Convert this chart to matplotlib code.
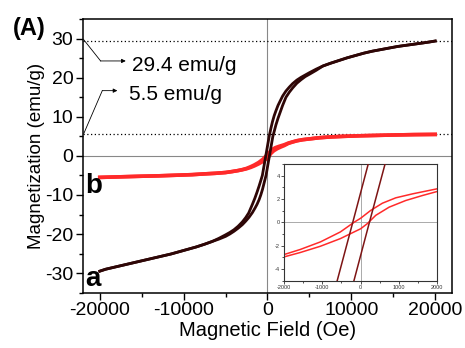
import matplotlib
matplotlib.use('Agg')
import matplotlib.pyplot as plt
from matplotlib.ticker import MultipleLocator

plt.rcParams['font.family'] = ['Liberation Sans', 'DejaVu Sans']
plt.rcParams['axes.unicode_minus'] = False

# sample a: descending-field branch and ascending-field branch (Oe, emu/g)
a_down_h = [20000, 19300, 18500, 17500, 16500, 15500, 14500, 13500, 12500, 11500,
            10500, 9500, 8500, 7500, 6600, 5800, 5000, 4500, 4000, 3500, 3000,
            2600, 2200, 1800, 1500, 1250, 1000, 800, 600, 400, 200, -205, -613,
            -840, -1000, -1250, -1500, -1800, -2240, -2600, -3000, -3500, -4000,
            -4500, -5000, -5800, -6600, -7500, -8500, -9500, -10500, -11500,
            -12500, -13500, -14500, -15500, -16500, -17500, -18500, -19300, -20000]
a_down_m = [29.4, 29.15, 28.9, 28.6, 28.3, 28.0, 27.6, 27.2, 26.8, 26.3,
            25.7, 25.1, 24.4, 23.7, 23.0, 22.2, 21.3, 20.7, 20.1, 19.4, 18.5,
            17.6, 16.6, 15.3, 14.0, 12.9, 11.5, 10.3, 8.8, 7.0, 5.0, 0.0, -5.0,
            -6.6, -7.7, -9.3, -10.8, -12.4, -14.6, -15.8, -16.9, -18.0, -18.9,
            -19.6, -20.2, -21.1, -21.9, -22.6, -23.3, -23.9, -24.5, -25.1,
            -25.6, -26.1, -26.6, -27.1, -27.6, -28.1, -28.6, -29.0, -29.5]
a_up_h = [-20000, -19300, -18500, -17500, -16500, -15500, -14500, -13500, -12500,
          -11500, -10500, -9500, -8500, -7500, -6600, -5800, -5000, -4500, -4000,
          -3500, -3000, -2600, -2200, -1800, -1500, -1250, -1000, -800, -600,
          -400, -175, 230, 640, 840, 1000, 1250, 1500, 1800, 2200, 2600, 3000,
          3500, 4000, 4500, 5000, 5800, 6600, 7500, 8500, 9500, 10500, 11500,
          12500, 13500, 14500, 15500, 16500, 17500, 18500, 19300, 20000]
a_up_m = [-29.5, -29.0, -28.6, -28.1, -27.6, -27.1, -26.6, -26.1, -25.6,
          -25.1, -24.5, -23.9, -23.3, -22.6, -21.9, -21.3, -20.6, -20.0, -19.3,
          -18.5, -17.6, -16.7, -15.7, -14.5, -13.4, -12.4, -11.2, -10.0, -8.6,
          -6.9, -5.0, 0.0, 5.0, 6.6, 7.9, 9.6, 11.1, 12.9, 15.0, 16.3, 17.4,
          18.6, 19.5, 20.3, 20.9, 21.9, 23.0, 23.7, 24.4, 25.1, 25.7, 26.3,
          26.8, 27.2, 27.6, 28.0, 28.3, 28.6, 28.9, 29.15, 29.4]

# sample b
b_down_h = [20000, 17500, 15000, 13000, 11000, 9000, 7500, 6200, 5000, 4200, 3500,
            3000, 2500, 2000, 1360, 920, 570, 263, 0, -175, -530, -1050, -1580,
            -2000, -2500, -3000, -3500, -4200, -5000, -6200, -7500, -9000,
            -11000, -13000, -15000, -17500, -20000]
b_down_m = [5.5, 5.45, 5.35, 5.25, 5.15, 5.0, 4.85, 4.65, 4.35, 4.15, 3.9,
            3.6, 3.3, 2.87, 2.44, 2.1, 1.64, 1.02, 0.35, 0.0, -0.82, -1.67, -2.32,
            -2.75, -3.2, -3.5, -3.75, -4.0, -4.25, -4.45, -4.6, -4.8,
            -4.95, -5.1, -5.2, -5.35, -5.5]
b_up_h = [-20000, -17500, -15000, -13000, -11000, -9000, -7500, -6200, -5000,
          -4200, -3500, -3000, -2500, -2000, -1580, -1050, -530, -260, 0, 175,
          395, 745, 1180, 1620, 2000, 2500, 3000, 3500, 4200, 5000, 6200, 7500,
          9000, 11000, 13000, 15000, 17500, 20000]
b_up_m = [-5.5, -5.35, -5.2, -5.1, -4.95, -4.8, -4.6, -4.45, -4.25,
          -4.0, -3.75, -3.55, -3.3, -2.95, -2.58, -2.04, -1.39, -0.96, -0.55, -0.11,
          0.6, 1.3, 1.87, 2.3, 2.64, 3.2, 3.55, 3.85, 4.15, 4.35, 4.65, 4.85,
          5.0, 5.15, 5.25, 5.35, 5.45, 5.5]

ms_a = 29.4
ms_b = 5.5

dark = '#2e0606'
maroon = '#7d1414'
red = '#ff2a2a'

fig = plt.figure(figsize=(4.65, 3.48), dpi=100)
ax = fig.add_axes([0.1785, 0.159, 0.7935, 0.786])

ax.axhline(0, color='#888888', lw=0.8, zorder=1)
ax.axvline(0, color='#888888', lw=0.8, zorder=1)
ax.axhline(ms_a, color='black', ls=(0, (1, 2)), lw=0.9, zorder=1)
ax.axhline(ms_b, color='black', ls=(0, (1, 2)), lw=0.9, zorder=1)

ax.plot(b_down_h, b_down_m, color=red, lw=2.6, zorder=2)
ax.plot(b_up_h, b_up_m, color=red, lw=2.6, zorder=2)
ax.plot(a_down_h, a_down_m, color=dark, lw=2.0, zorder=3)
ax.plot(a_up_h, a_up_m, color=dark, lw=2.0, zorder=3)

ax.set_xlim(-22000, 22000)
ax.set_ylim(-35, 35)
ax.xaxis.set_major_locator(MultipleLocator(10000))
ax.xaxis.set_minor_locator(MultipleLocator(5000))
ax.yaxis.set_major_locator(MultipleLocator(10))
ax.yaxis.set_minor_locator(MultipleLocator(5))
ax.tick_params(which='major', direction='out', length=5, width=1, labelsize=14,
               pad=2)
ax.tick_params(which='minor', direction='out', length=3, width=1)
for s in ax.spines.values():
    s.set_linewidth(1.1)

ax.set_xlabel('Magnetic Field (Oe)', fontsize=14.5, labelpad=1)
ax.set_ylabel('Magnetization (emu/g)', fontsize=13.5, labelpad=0)

# callouts
ax.plot([-21900, -19900], [29.7, 24.3], color='black', lw=0.6)
ax.annotate('', xy=(-16900, 24.3), xytext=(-19900, 24.3),
            arrowprops=dict(arrowstyle='-|>', color='black', lw=0.6,
                            mutation_scale=6, shrinkA=0, shrinkB=0))
ax.text(-16200, 23.2, '29.4 emu/g', fontsize=15, va='center', ha='left')
ax.plot([-21900, -19700], [5.75, 16.7], color='black', lw=0.6)
ax.annotate('', xy=(-17900, 16.7), xytext=(-19700, 16.7),
            arrowprops=dict(arrowstyle='-|>', color='black', lw=0.6,
                            mutation_scale=6, shrinkA=0, shrinkB=0))
ax.text(-16500, 15.8, '5.5 emu/g', fontsize=15, va='center', ha='left')

ax.text(-21700, -33.3, 'a', fontsize=20, fontweight='bold', va='baseline')
ax.text(-21700, -9.6, 'b', fontsize=20, fontweight='bold', va='baseline')
fig.text(0.028, 0.918, '(A)', fontsize=17, fontweight='bold', va='center')

# inset: low-field region
ins = fig.add_axes([0.611, 0.193, 0.329, 0.336])
ins.axhline(0, color='#aaaaaa', lw=0.7, zorder=1)
ins.axvline(0, color='#aaaaaa', lw=0.7, zorder=1)
ins.plot(b_down_h, b_down_m, color=red, lw=1.1, zorder=2)
ins.plot(b_up_h, b_up_m, color=red, lw=1.1, zorder=2)
ins.plot(a_down_h, a_down_m, color=maroon, lw=1.1, zorder=3)
ins.plot(a_up_h, a_up_m, color=maroon, lw=1.1, zorder=3)
ins.set_xlim(-2000, 2000)
ins.set_ylim(-5, 5)
ins.xaxis.set_major_locator(MultipleLocator(1000))
ins.xaxis.set_minor_locator(MultipleLocator(500))
ins.yaxis.set_major_locator(MultipleLocator(2))
ins.yaxis.set_minor_locator(MultipleLocator(1))
ins.tick_params(which='major', direction='out', length=2, width=0.6, labelsize=4,
                pad=1, colors='#333333')
ins.tick_params(which='minor', direction='out', length=1.2, width=0.6,
                colors='#333333')
for s in ins.spines.values():
    s.set_linewidth(0.8)
    s.set_color('#333333')

fig.savefig('out.png', dpi=100)
